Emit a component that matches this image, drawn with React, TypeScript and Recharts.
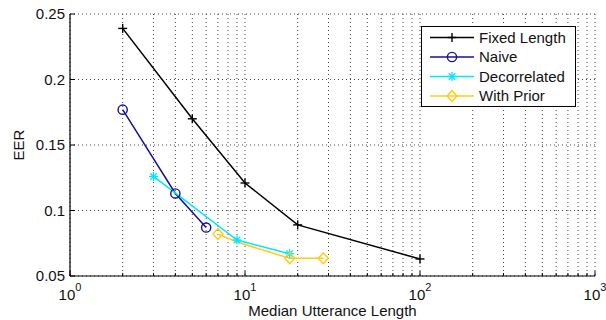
import { LineChart, Line, XAxis, YAxis, CartesianGrid, Legend, Label } from 'recharts'

// median utterance length (x) and EER (y), one pair of arrays per series
const fixedLen = [2, 5, 10, 20, 100]
const fixedEer = [0.239, 0.170, 0.121, 0.089, 0.063]
const naiveLen = [2, 4, 6]
const naiveEer = [0.177, 0.113, 0.087]
const decorLen = [3, 9, 18]
const decorEer = [0.126, 0.0775, 0.067]
const priorLen = [7, 9, 18, 28]
const priorEer = [0.082, 0.076, 0.0635, 0.0635]

const xMajor = [1, 10, 100, 1000]
const xTicks = [1, 2, 3, 4, 5, 6, 7, 8, 9, 10, 20, 30, 40, 50, 60, 70, 80, 90, 100, 200, 300, 400, 500, 600, 700, 800, 900, 1000]
const yTicks = [0.05, 0.1, 0.15, 0.2, 0.25]

const FONT = '"Liberation Sans", Arial, sans-serif'

const zip = (xs: number[], ys: number[]) => xs.map((len, i) => ({ len, eer: ys[i] }))

const series = [
  { name: 'Fixed Length', data: zip(fixedLen, fixedEer), color: '#000000', marker: 'plus' },
  { name: 'Naive', data: zip(naiveLen, naiveEer), color: '#12129c', marker: 'circle' },
  { name: 'Decorrelated', data: zip(decorLen, decorEer), color: '#00e6ff', marker: 'star' },
  { name: 'With Prior', data: zip(priorLen, priorEer), color: '#ffcc11', marker: 'diamond', hidden: [1] },
]

const Marker = ({ kind, cx, cy, color }: any) => {
  const s = 4.5
  if (kind === 'plus')
    return (
      <g stroke={color} strokeWidth={1.4}>
        <line x1={cx - s} x2={cx + s} y1={cy} y2={cy} />
        <line x1={cx} x2={cx} y1={cy - s} y2={cy + s} />
      </g>
    )
  if (kind === 'circle') return <circle cx={cx} cy={cy} r={4.6} fill="none" stroke={color} strokeWidth={1.4} />
  if (kind === 'diamond')
    return (
      <polygon
        points={`${cx},${cy - 5.5} ${cx + 5},${cy} ${cx},${cy + 5.5} ${cx - 5},${cy}`}
        fill="none"
        stroke={color}
        strokeWidth={1.4}
      />
    )
  const d = s * 0.72
  return (
    <g stroke={color} strokeWidth={1.3}>
      <line x1={cx - s} x2={cx + s} y1={cy} y2={cy} />
      <line x1={cx} x2={cx} y1={cy - s} y2={cy + s} />
      <line x1={cx - d} x2={cx + d} y1={cy - d} y2={cy + d} />
      <line x1={cx - d} x2={cx + d} y1={cy + d} y2={cy - d} />
    </g>
  )
}

const BottomTick = ({ x, y, payload }: any) => {
  const v = payload.value
  const major = xMajor.includes(v)
  return (
    <g>
      <line x1={x} x2={x} y1={y} y2={y - (major ? 5 : 3)} stroke="#000" />
      {major && (
        <text x={x} y={y + 24} textAnchor="middle" fontSize={15} fontFamily={FONT} fill="#111">
          10<tspan dy={-9} fontSize={11}>{Math.round(Math.log10(v))}</tspan>
        </text>
      )}
    </g>
  )
}

const TopTick = ({ x, y, payload }: any) => {
  const major = xMajor.includes(payload.value)
  return <line x1={x} x2={x} y1={y} y2={y + (major ? 5 : 3)} stroke="#000" />
}

const LeftTick = ({ x, y, payload }: any) => (
  <g>
    <line x1={x + 5} x2={x + 10} y1={y} y2={y} stroke="#000" />
    <text x={x} y={y} dy={5} textAnchor="end" fontSize={15} fontFamily={FONT} fill="#111">
      {String(payload.value)}
    </text>
  </g>
)

const RightTick = ({ x, y }: any) => <line x1={x} x2={x - 5} y1={y} y2={y} stroke="#000" />

const LegendBox = ({ payload }: any) => {
  const names = (payload || []).map((p: any) => p.value)
  const rows = series.filter((s) => names.includes(s.name))
  return (
    <svg width={155} height={81} style={{ display: 'block' }}>
      <rect x={0.5} y={0.5} width={154} height={80} fill="#fff" stroke="#000" />
      {rows.map((s, i) => {
        const cy = 11.5 + i * 19.5
        return (
          <g key={s.name}>
            <line x1={9} x2={53} y1={cy} y2={cy} stroke={s.color} strokeWidth={1.5} />
            <Marker kind={s.marker} cx={31} cy={cy} color={s.color} />
            <text x={58} y={cy} dy={5} fontSize={15} fontFamily={FONT} fill="#111">
              {s.name}
            </text>
          </g>
        )
      })}
    </svg>
  )
}

export default function App() {
  return (
    <div>
      <style>{`body { margin: 0; background: #fff; }`}</style>
      <LineChart width={606} height={320} margin={{ top: 14, right: 11, bottom: 8, left: 10 }}>
        <CartesianGrid stroke="#444" strokeDasharray="1 3" />
        <XAxis
          dataKey="len"
          type="number"
          scale="log"
          domain={[1, 1000]}
          ticks={xTicks}
          interval={0}
          allowDataOverflow
          height={36}
          tickSize={0}
          tickMargin={0}
          tickLine={false}
          axisLine={{ stroke: '#000', strokeWidth: 1.2 }}
          tick={<BottomTick />}
        >
          <Label
            content={({ viewBox }: any) => (
              <text x={viewBox.x + viewBox.width / 2} y={316} textAnchor="middle" fontSize={15} fontFamily={FONT} fill="#111">
                Median Utterance Length
              </text>
            )}
          />
        </XAxis>
        <XAxis
          xAxisId="top"
          orientation="top"
          dataKey="len"
          type="number"
          scale="log"
          domain={[1, 1000]}
          ticks={xTicks}
          interval={0}
          allowDataOverflow
          height={0}
          tickSize={0}
          tickMargin={0}
          tickLine={false}
          axisLine={{ stroke: '#000', strokeWidth: 1.2 }}
          tick={<TopTick />}
        />
        <YAxis
          type="number"
          domain={[0.05, 0.25]}
          ticks={yTicks}
          interval={0}
          width={60}
          tickSize={0}
          tickMargin={5}
          tickLine={false}
          axisLine={{ stroke: '#000', strokeWidth: 1.2 }}
          tick={<LeftTick />}
        >
          <Label
            content={({ viewBox }: any) => {
              const cy = viewBox.y + viewBox.height / 2
              return (
                <text x={24} y={cy} transform={`rotate(-90 24 ${cy})`} textAnchor="middle" fontSize={15} fontFamily={FONT} fill="#111">
                  EER
                </text>
              )
            }}
          />
        </YAxis>
        <YAxis
          yAxisId="right"
          orientation="right"
          type="number"
          domain={[0.05, 0.25]}
          ticks={yTicks}
          interval={0}
          width={0}
          tickSize={0}
          tickMargin={0}
          tickLine={false}
          axisLine={{ stroke: '#000', strokeWidth: 1.2 }}
          tick={<RightTick />}
        />
        <Legend
          layout="vertical"
          align="center"
          verticalAlign="middle"
          content={<LegendBox />}
          wrapperStyle={{ left: 421, top: 26, width: 155, height: 81 }}
        />
        {series.map((s) => (
          <Line
            key={s.name}
            name={s.name}
            data={s.data}
            dataKey="eer"
            stroke={s.color}
            strokeWidth={1.5}
            isAnimationActive={false}
            dot={(p: any) =>
              s.hidden && s.hidden.includes(p.index) ? (
                <g key={p.index} />
              ) : (
                <Marker key={p.index} kind={s.marker} cx={p.cx} cy={p.cy} color={s.color} />
              )
            }
            activeDot={false}
          />
        ))}
      </LineChart>
    </div>
  )
}
